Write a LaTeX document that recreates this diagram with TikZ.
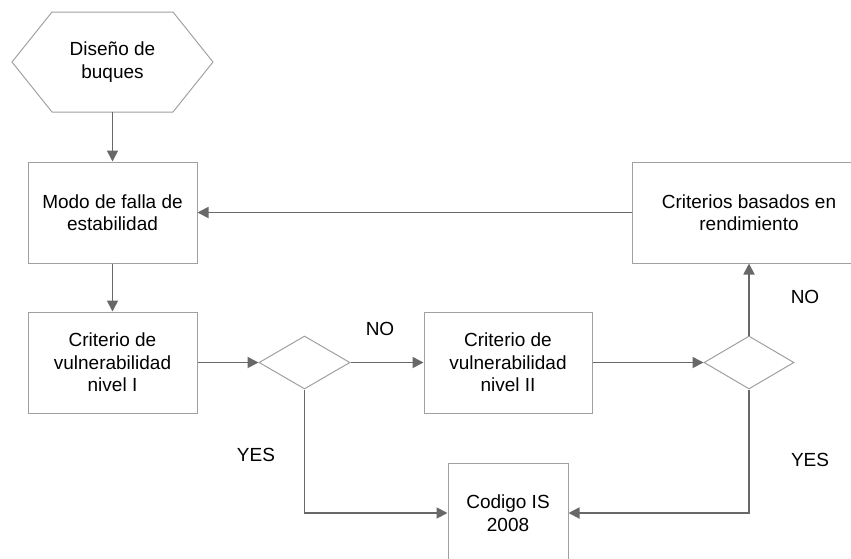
\documentclass[tikz,border=0pt]{standalone}
\usepackage{fontspec}
\setmainfont{Liberation Sans}
\usetikzlibrary{arrows.meta,shapes.geometric}
\definecolor{boxgray}{HTML}{A0A0A0}
\definecolor{arrgray}{HTML}{686868}
\begin{document}
\begin{tikzpicture}[x=1pt,y=-1pt,
  font=\fontsize{19}{22.5}\selectfont,
  boxnode/.style={draw=boxgray,line width=1pt,rectangle,align=center,inner sep=0pt},
  decision/.style={draw=boxgray,line width=1pt,diamond,inner sep=0pt},
  conn/.style={draw=arrgray,line width=1.8pt,-{Triangle[length=11pt,width=11pt]}},
  lbl/.style={font=\fontsize{19}{22.5}\selectfont}]
\clip (0,0) rectangle (851,558);
\fill[white] (0,0) rectangle (851,558);
% hexagon
\node[align=center,minimum width=201pt,minimum height=100pt,inner sep=0pt] (hex) at (112.5,62) {Diseño de\\buques};
\draw[boxgray,line width=1pt] (12,62) -- (52,12) -- (173,12) -- (213,62) -- (173,112) -- (52,112) -- cycle;
\coordinate (hexb) at (112.5,112);
% boxes
\node[boxnode,minimum width=169pt,minimum height=101pt] (modo) at (112.5,212.5) {Modo de falla de\\estabilidad};
\node[boxnode,minimum width=169pt,minimum height=101pt] (l1) at (112.5,362.5) {Criterio de\\vulnerabilidad\\nivel I};
\node[boxnode,minimum width=168pt,minimum height=101pt] (l2) at (508,362.5) {Criterio de\\vulnerabilidad\\nivel II};
\node[boxnode,minimum width=234pt,minimum height=101pt] (crit) at (749,212.5) {Criterios basados en\\rendimiento};
\node[boxnode,minimum width=120pt,minimum height=100pt] (cod) at (508,513) {Codigo IS\\2008};
% diamonds
\node[decision,minimum width=91pt,minimum height=53pt] (d1) at (304.5,362.5) {};
\node[decision,minimum width=90pt,minimum height=53pt] (d2) at (749,362.5) {};
% connectors
\draw[conn] (hexb) -- (modo.north);
\draw[conn] (crit.west) -- (modo.east);
\draw[conn] (modo.south) -- (l1.north);
\draw[conn] (l1.east) -- (d1.west);
\draw[conn] (d1.east) -- (l2.west);
\draw[conn] (l2.east) -- (d2.west);
\draw[conn] (d2.north) -- (crit.south);
\draw[conn] (d1.south) |- (cod.west);
\draw[conn] (d2.south) |- (cod.east);
% labels
\node[lbl] (no1) at (380,329) {NO};
\node[lbl] (yes1) at (256,455) {YES};
\node[lbl] (no2) at (805,297) {NO};
\node[lbl] (yes2) at (810,460) {YES};
\end{tikzpicture}
\end{document}
